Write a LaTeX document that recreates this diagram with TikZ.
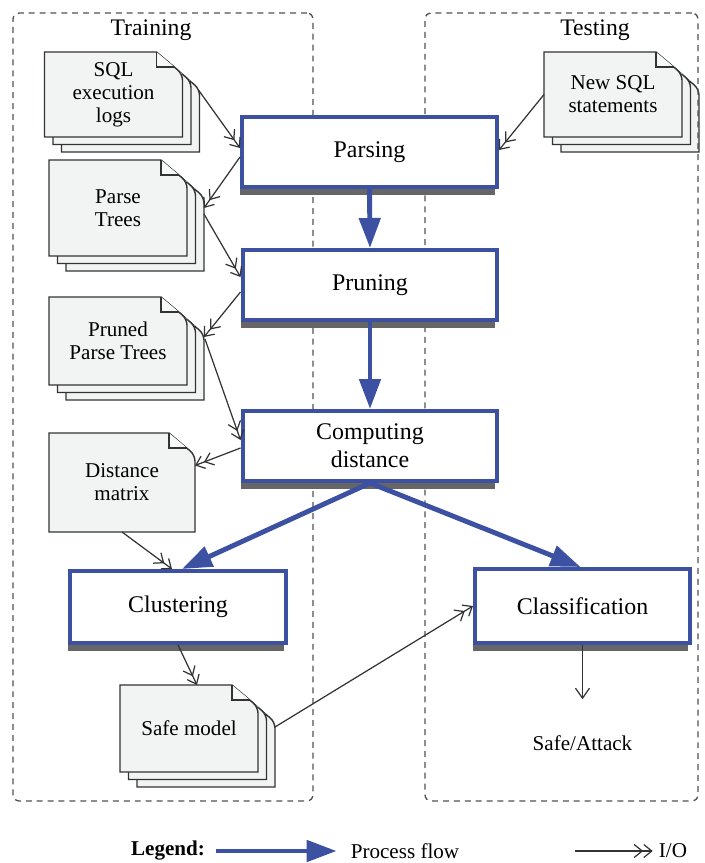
\documentclass[tikz,border=0pt]{standalone}
\usepackage{fontspec}
\setmainfont{Liberation Serif}
\usetikzlibrary{arrows.meta,calc,shadows,backgrounds}
\definecolor{flowblue}{HTML}{3D51A3}
\definecolor{shade}{HTML}{666666}
\definecolor{paper}{HTML}{F2F4F4}
\definecolor{foldpaper}{HTML}{F8F9F9}
\definecolor{ink}{HTML}{333333}
\tikzset{
  region/.style={draw=ink!85, line width=0.75pt, dash pattern=on 3.4pt off 2.8pt, rounded corners=0.12cm},
  title/.style={font=\fontsize{13.5}{16}\selectfont},
  proc/.style={draw=flowblue, line width=2.3pt, fill=white, align=center, minimum width=5.1cm, minimum height=1.4cm,
    font=\fontsize{13.6}{16}\selectfont, drop shadow={shadow xshift=-0.04cm, shadow yshift=-0.16cm, fill=shade, opacity=1}},
  doc/.style={align=center, inner sep=0pt, outer sep=0pt, minimum width=2.76cm, font=\fontsize{12}{13}\selectfont},
  sheet/.style={draw=ink, line width=0.8pt, fill=paper},
  flow/.style={-{Triangle[length=6mm, width=4.2mm]}, draw=flowblue, line width=2.8pt},
  io/.style={-{Straight Barb[length=1.6mm, width=2.6mm] Straight Barb[length=1.6mm, width=2.6mm]}, draw=ink, line width=0.7pt},
  resarr/.style={-{Straight Barb[length=2mm, width=2.8mm]}, draw=ink, line width=0.7pt},
  lbl/.style={font=\fontsize{12}{14}\selectfont}
}
% one page with a folded corner, shifted by (#2,#3) px from node #1
\newcommand{\docsheet}[3]{%
  \filldraw[sheet] ($(#1.north west)+(#2,#3)$) -- ($(#1.north east)+(#2-26,#3)$)
    [rounded corners=0.12cm] -- ($(#1.north east)+(#2,#3+22)$)
    [sharp corners] -- ($(#1.south east)+(#2,#3)$) -- ($(#1.south west)+(#2,#3)$) -- cycle;
  \filldraw[sheet, fill=foldpaper] ($(#1.north east)+(#2-26,#3)$) -- ($(#1.north east)+(#2-26,#3+15)$)
    -- ($(#1.north east)+(#2-8,#3+15)$);
}
\newcommand{\docstack}[1]{\docsheet{#1}{17}{15}\docsheet{#1}{8.5}{7.5}\docsheet{#1}{0}{0}}

\begin{document}
\begin{tikzpicture}[x=0.02cm, y=-0.02cm]
\useasboundingbox (0,0) rectangle (704,863);

% regions
\node[region, minimum width=6cm, minimum height=15.76cm] (train) at (163,407) {};
\node[region, minimum width=5.46cm, minimum height=15.76cm] (test) at (561.5,407) {};
\node[title] (traint) at (151,30) {Training};
\node[title] (testt) at (595,30) {Testing};

% process steps
\node[proc] (parse) at (369.5,152) {Parsing};
\node[proc] (prune) at (370,285) {Pruning};
\node[proc] (comp) at (370,446) {Computing\\distance};
\node[proc, minimum width=4.32cm, minimum height=1.44cm] (clust) at (178,607) {Clustering};
\node[proc, minimum width=4.3cm, minimum height=1.48cm] (class) at (582.5,606) {Classification};

% documents
\node[doc, minimum height=1.7cm] (logs) at (113.5,94.5) {SQL\\execution\\logs};
\node[doc, minimum height=1.92cm] (trees) at (118,208) {Parse\\Trees};
\node[doc, minimum height=1.76cm] (pruned) at (118,341) {Pruned\\Parse Trees};
\node[doc, minimum width=2.92cm, minimum height=1.98cm] (dist) at (122,482.5) {Distance\\matrix};
\node[doc, minimum height=1.74cm] (safe) at (189,728.5) {Safe model};
\node[doc, minimum height=1.7cm] (new) at (613,94.5) {New SQL\\statements};
\begin{scope}[on background layer]
  \docstack{logs}
  \docstack{trees}
  \docstack{pruned}
  \docsheet{dist}{0}{0}
  \docstack{safe}
  \docstack{new}
\end{scope}

\node[lbl] (res) at (582.5,743) {Safe/Attack};

% process flow
\draw[flow] (parse.south) -- (prune.north);
\draw[flow] (prune.south) -- (comp.north);
\draw[flow] (comp.south) -- ($(clust.north)+(4,0)$);
\draw[flow] (comp.south) -- ($(class.north)+(-2,0)$);

% I/O
\draw[io] ($(logs.north east)+(16,38)$) -- ($(parse.west)+(0,-4)$);
\draw[io] ($(parse.west)+(0,5)$) -- ($(trees.north east)+(17,48)$);
\draw[io] ($(trees.north east)+(17,54)$) -- ($(prune.west)+(0,-8)$);
\draw[io] ($(prune.west)+(0,7)$) -- ($(pruned.north east)+(17,40)$);
\draw[io] ($(pruned.north east)+(18,42)$) -- ($(comp.west)+(0,-6)$);
\draw[io] ($(comp.west)+(0,2)$) -- ($(dist.east)+(0,-17)$);
\draw[io] (dist.south) -- ($(clust.north)+(-6,0)$);
\draw[io] (clust.south) -- ($(safe.north)+(8,0)$);
\draw[io] ($(safe.north east)+(17,42)$) -- (class.west);
\draw[io] (new.west) -- ($(parse.east)+(0,-2)$);
\draw[resarr] (class.south) -- ($(res.north)+(0,-30)$);

% legend
\node[font=\fontsize{12}{14}\selectfont\bfseries] (leg) at (168,851) {Legend:};
\node[lbl] (pf) at (405,851) {Process flow};
\draw[flow] ($(leg.east)+(5,0)$) -- ($(pf.west)+(-8,0)$);
\node[lbl] (iol) at (673,851) {I/O};
\coordinate (ios) at (575,851);
\draw[io] (ios) -- (iol.west);
\end{tikzpicture}
\end{document}
